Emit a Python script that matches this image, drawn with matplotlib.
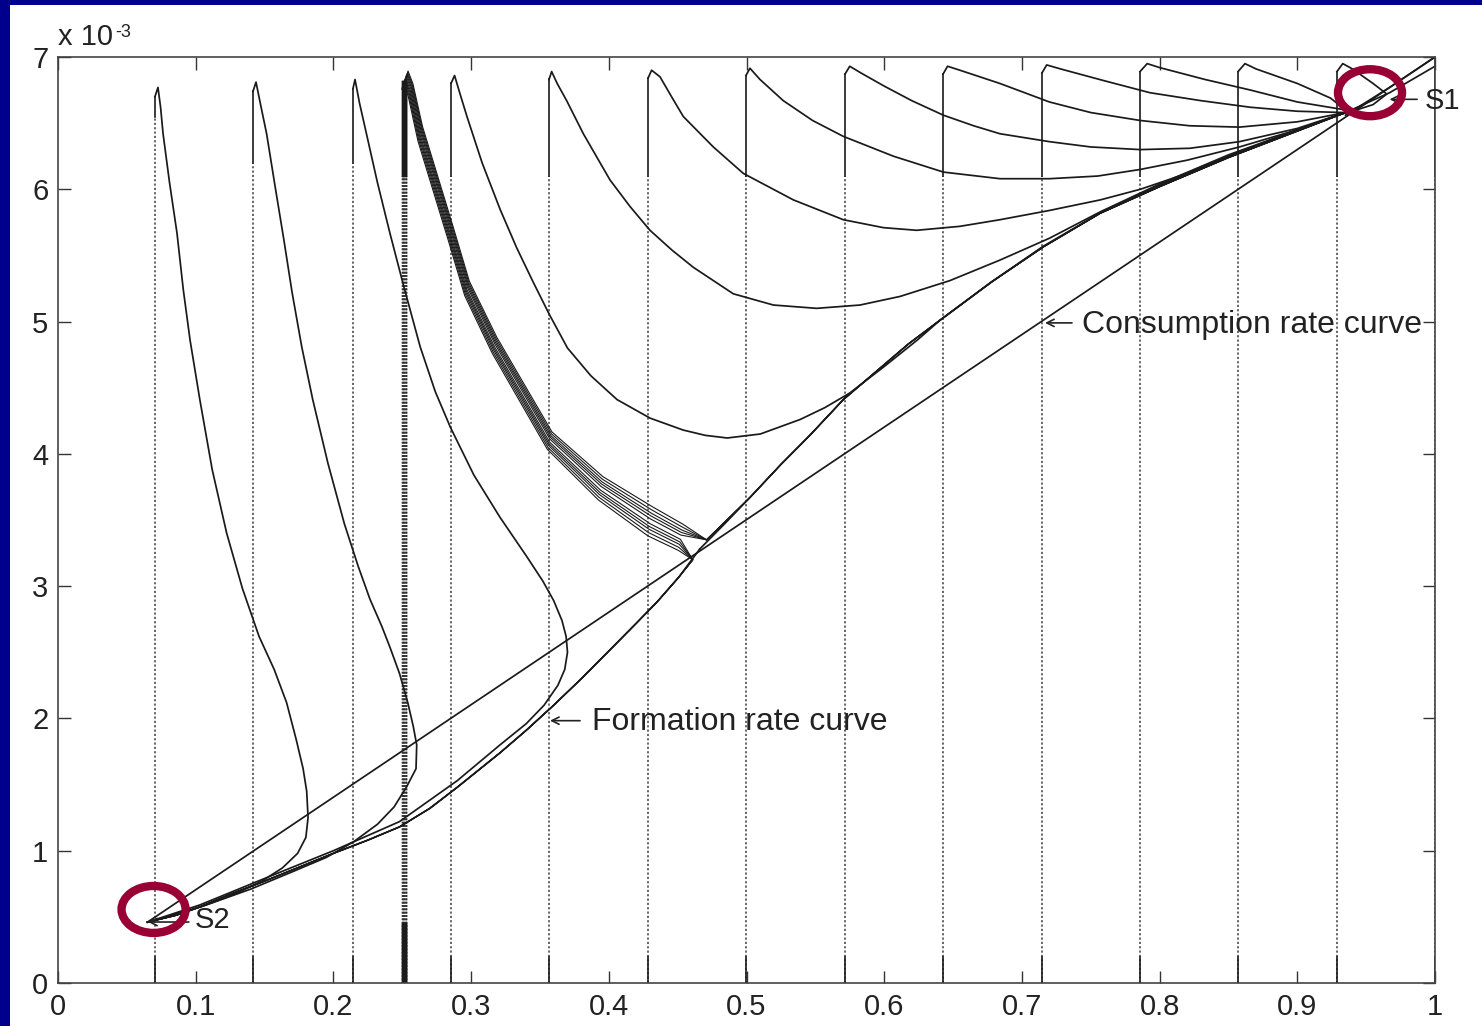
import matplotlib.pyplot as plt
from matplotlib.patches import Ellipse, Rectangle

plt.rcParams['font.family'] = ['Liberation Sans', 'DejaVu Sans']

# y values are in units of 1e-3

# where each run starts (bottom of the vertical) and where its vertical turns solid
x0_vals = [0.0704, 0.1416, 0.2142, 0.2854, 0.3566, 0.4285, 0.4996,
           0.5715, 0.6427, 0.7146, 0.7858, 0.857, 0.9288, 1.0]
solid_from = [6.55, 6.2, 6.2, 6.1, 6.1, 6.1, 6.1, 6.1, 6.1, 6.1, 6.1, 6.1, 6.1, 6.1]

# path of each run after the vertical rise
runs = [
    [(0.0704, 6.70), (0.0726, 6.77), (0.0745, 6.62), (0.0763, 6.42), (0.081, 6.05),
     (0.0864, 5.67), (0.091, 5.24), (0.0959, 4.86), (0.103, 4.41), (0.112, 3.88),
     (0.1225, 3.40), (0.134, 2.98), (0.146, 2.62), (0.157, 2.37), (0.166, 2.12),
     (0.173, 1.84), (0.178, 1.62), (0.1806, 1.45), (0.1816, 1.25), (0.180, 1.10),
     (0.174, 0.98), (0.163, 0.87), (0.148, 0.77), (0.130, 0.68), (0.110, 0.60),
     (0.088, 0.52), (0.065, 0.46)],
    [(0.1416, 6.74), (0.1438, 6.81), (0.1475, 6.62), (0.1515, 6.42), (0.158, 6.00),
     (0.164, 5.62), (0.170, 5.22), (0.177, 4.81), (0.185, 4.41), (0.196, 3.93),
     (0.208, 3.47), (0.218, 3.15), (0.2266, 2.90), (0.235, 2.70), (0.241, 2.54),
     (0.248, 2.34), (0.254, 2.12), (0.258, 1.94), (0.2605, 1.80), (0.260, 1.62),
     (0.253, 1.48), (0.244, 1.33), (0.232, 1.20), (0.215, 1.07), (0.195, 0.95),
     (0.170, 0.84), (0.140, 0.71), (0.105, 0.58), (0.065, 0.46)],
    [(0.2142, 6.76), (0.2157, 6.83), (0.219, 6.65), (0.224, 6.42), (0.232, 6.05),
     (0.241, 5.67), (0.251, 5.27), (0.263, 4.81), (0.274, 4.47), (0.285, 4.20),
     (0.302, 3.84), (0.321, 3.52), (0.340, 3.23), (0.352, 3.04), (0.360, 2.89),
     (0.366, 2.74), (0.369, 2.62), (0.370, 2.50), (0.368, 2.37), (0.363, 2.25),
     (0.353, 2.10), (0.340, 1.96), (0.321, 1.80), (0.290, 1.53), (0.248, 1.22),
     (0.200, 1.00), (0.150, 0.79), (0.103, 0.59), (0.065, 0.46)],
    [(0.2854, 6.80), (0.288, 6.86), (0.292, 6.72), (0.297, 6.55), (0.308, 6.20),
     (0.321, 5.85), (0.333, 5.56), (0.345, 5.30), (0.357, 5.05), (0.370, 4.80),
     (0.387, 4.59), (0.406, 4.41), (0.430, 4.27), (0.454, 4.18), (0.470, 4.14),
     (0.486, 4.12), (0.510, 4.15), (0.539, 4.26), (0.557, 4.35), (0.575, 4.46),
     (0.600, 4.66), (0.624, 4.86), (0.6405, 5.01), (0.678, 5.30), (0.7156, 5.57),
     (0.7567, 5.82), (0.800, 6.03), (0.850, 6.25), (0.895, 6.43), (0.935, 6.58)],
    [(0.3566, 6.83), (0.3585, 6.89), (0.3625, 6.80), (0.3694, 6.67), (0.3815, 6.42),
     (0.4009, 6.07), (0.4154, 5.87), (0.4299, 5.69), (0.4459, 5.54), (0.4614, 5.41),
     (0.4904, 5.21), (0.5195, 5.125), (0.551, 5.10), (0.5824, 5.125), (0.6115, 5.19),
     (0.6478, 5.31), (0.6841, 5.465), (0.720, 5.63), (0.757, 5.83), (0.800, 6.04),
     (0.850, 6.26), (0.895, 6.43), (0.935, 6.58)],
    [(0.4285, 6.84), (0.4311, 6.90), (0.4372, 6.85), (0.445, 6.71), (0.4541, 6.55),
     (0.4759, 6.32), (0.4977, 6.12), (0.534, 5.92), (0.5703, 5.77), (0.5994, 5.71),
     (0.6236, 5.69), (0.655, 5.72), (0.6841, 5.77), (0.720, 5.84), (0.757, 5.92),
     (0.786, 6.00), (0.820, 6.12), (0.858, 6.28), (0.895, 6.43), (0.935, 6.58)],
    [(0.4996, 6.86), (0.5025, 6.915), (0.5098, 6.83), (0.5267, 6.67), (0.548, 6.52),
     (0.5703, 6.40), (0.6067, 6.25), (0.643, 6.13), (0.6841, 6.08), (0.720, 6.08),
     (0.755, 6.10), (0.786, 6.15), (0.820, 6.22), (0.858, 6.32), (0.900, 6.45),
     (0.935, 6.58)],
    [(0.5715, 6.87), (0.575, 6.93), (0.583, 6.88), (0.600, 6.78), (0.620, 6.67),
     (0.643, 6.56), (0.665, 6.48), (0.684, 6.42), (0.720, 6.36), (0.750, 6.32),
     (0.786, 6.30), (0.822, 6.31), (0.858, 6.36), (0.900, 6.46), (0.935, 6.58)],
    [(0.6427, 6.87), (0.646, 6.93), (0.655, 6.90), (0.684, 6.80), (0.720, 6.66),
     (0.750, 6.58), (0.786, 6.52), (0.822, 6.48), (0.858, 6.47), (0.900, 6.51),
     (0.935, 6.58)],
    [(0.7146, 6.88), (0.718, 6.94), (0.728, 6.91), (0.760, 6.82), (0.793, 6.73),
     (0.830, 6.67), (0.866, 6.62), (0.900, 6.59), (0.935, 6.58)],
    [(0.7858, 6.89), (0.791, 6.95), (0.800, 6.92), (0.833, 6.83), (0.866, 6.75),
     (0.900, 6.66), (0.935, 6.60)],
    [(0.857, 6.89), (0.862, 6.95), (0.870, 6.91), (0.900, 6.80), (0.924, 6.69),
     (0.935, 6.60)],
    [(0.9288, 6.89), (0.933, 6.95), (0.940, 6.91), (0.955, 6.80), (0.965, 6.72),
     (0.955, 6.64), (0.940, 6.59)],
    [(1.0, 7.0), (0.967, 6.77), (0.935, 6.56)],
]

# bundle of runs started right at the separatrix (x0 close to 0.25)
bunch_dx = [-0.0016, -0.0012, -0.0008, -0.0004, 0.0, 0.0003, 0.0007, 0.0011, 0.0014, 0.0017]
bunch_dy = [-0.11, -0.085, -0.06, -0.04, -0.018, 0.018, 0.04, 0.06, 0.085, 0.11]
bunch_path = [(0.2513, 6.80), (0.2525, 6.85), (0.256, 6.75), (0.263, 6.42), (0.285, 5.67),
              (0.297, 5.25), (0.317, 4.82), (0.357, 4.10), (0.394, 3.74), (0.430, 3.49),
              (0.452, 3.37)]
fan_weight = [0.4, 0.4, 0.45, 0.5, 0.5, 0.5, 0.55, 0.6, 0.8, 1.0, 0.9]
saddle_up = (0.471, 3.35)
saddle_down = (0.461, 3.20)

# formation rate curve (lower branch S2 -> saddle, upper branch saddle -> S1)
form_lo_x = [0.065, 0.085, 0.103, 0.125, 0.150, 0.175, 0.200, 0.225, 0.248, 0.270,
             0.290, 0.321, 0.340, 0.360, 0.380, 0.401, 0.420, 0.435, 0.451, 0.466]
form_lo_y = [0.46, 0.51, 0.575, 0.67, 0.77, 0.875, 0.98, 1.08, 1.18, 1.32,
             1.48, 1.74, 1.91, 2.10, 2.30, 2.52, 2.72, 2.88, 3.07, 3.28]
form_hi_x = [0.466, 0.484, 0.5025, 0.525, 0.546, 0.5703, 0.595, 0.6175, 0.6405, 0.678,
             0.7156, 0.7567, 0.800, 0.850, 0.895, 0.935, 0.967, 1.0]
form_hi_y = [3.28, 3.47, 3.67, 3.92, 4.14, 4.41, 4.63, 4.83, 5.01, 5.30,
             5.565, 5.818, 6.02, 6.24, 6.42, 6.58, 6.73, 6.93]

# consumption rate curve (straight)
cons_x = [0.065, 1.0]
cons_y = [0.46, 7.0]

# label arrows: (text, arrow tip, arrow tail, text baseline position, font size)
labels = [
    ('Consumption rate curve', (0.7168, 4.99), (0.7364, 4.99), (0.7437, 4.913), 23),
    ('Formation rate curve', (0.3573, 1.983), (0.3791, 1.983), (0.3876, 1.912), 23),
    ('S1', (0.967, 6.68), (0.987, 6.68), (0.9928, 6.61), 21),
    ('S2', (0.0654, 0.461), (0.095, 0.461), (0.0995, 0.415), 21),
]

s1_ring = (0.9528, 6.73)
s2_ring = (0.0694, 0.556)

x_ticks = [0, 0.1, 0.2, 0.3, 0.4, 0.5, 0.6, 0.7, 0.8, 0.9, 1.0]
x_tick_labels = ['0', '0.1', '0.2', '0.3', '0.4', '0.5', '0.6', '0.7', '0.8', '0.9', '1']
y_ticks = [0, 1, 2, 3, 4, 5, 6, 7]

line_col = '#1a1a1a'
dot_col = '#5a5a5a'
dots = (0, (1.2, 1.2))

fig = plt.figure(figsize=(14.82, 10.26), dpi=100)
fig.patch.set_facecolor('#00008c')
fig.patches.append(Rectangle((10 / 1482, 0), 1, 1 - 5 / 1026, transform=fig.transFigure,
                             facecolor='white', edgecolor='none', zorder=-1))
ax = fig.add_axes([58 / 1482, 43 / 1026, 1377 / 1482, 926 / 1026])

# vertical rises
for x0, sf, path in zip(x0_vals, solid_from, runs):
    top = path[0][1]
    ax.plot([x0, x0], [0, sf], color=dot_col, lw=1.3, ls=dots)
    ax.plot([x0, x0], [0, 0.2], color=line_col, lw=1.2)
    ax.plot([x0, x0], [sf, top], color=line_col, lw=1.2)

for dx in bunch_dx:
    x0 = bunch_path[0][0] + dx
    ax.plot([x0, x0], [0, 6.1], color='#333333', lw=1.0, ls=dots)
    ax.plot([x0, x0], [6.1, 6.82], color=line_col, lw=1.0)
    ax.plot([x0, x0], [0, 0.45], color=line_col, lw=1.0)

# runs
for path in runs:
    ax.plot([p[0] for p in path], [p[1] for p in path], color=line_col, lw=1.25)

# separatrix bundle
for dx, dy in zip(bunch_dx, bunch_dy):
    xs = [p[0] + dx for p in bunch_path]
    ys = [p[1] + dy * w for p, w in zip(bunch_path, fan_weight)]
    if dy > 0:
        xs += [saddle_up[0]] + form_hi_x[2:16]
        ys += [saddle_up[1]] + form_hi_y[2:16]
    else:
        xs += [saddle_down[0]] + form_lo_x[::-1][1:]
        ys += [saddle_down[1]] + form_lo_y[::-1][1:]
    ax.plot(xs, ys, color=line_col, lw=0.8)

# rate curves
ax.plot(form_lo_x, form_lo_y, color=line_col, lw=1.25)
ax.plot(form_hi_x, form_hi_y, color=line_col, lw=1.25)
ax.plot(cons_x, cons_y, color=line_col, lw=1.25)

# labels with arrows
for name, tip, tail, pos, size in labels:
    ax.annotate('', xy=tip, xytext=tail, annotation_clip=False,
                arrowprops=dict(arrowstyle='->', color='#222222', lw=1.2,
                                shrinkA=0, shrinkB=0, mutation_scale=13))
    ax.text(pos[0], pos[1], name, fontsize=size, color='#222222', ha='left',
            va='baseline', clip_on=False)

for c in (s1_ring, s2_ring):
    ax.add_patch(Ellipse(c, width=0.0465, height=0.355, fill=False,
                         edgecolor='#990033', lw=6, clip_on=False, zorder=5))

# MATLAB style exponent label
ax.text(0.0, 1.013, 'x 10', transform=ax.transAxes, fontsize=21,
        ha='left', va='baseline', color='#222222')
ax.text(0.0414, 1.0216, '-3', transform=ax.transAxes, fontsize=13,
        ha='left', va='baseline', color='#222222')

ax.set_xlim(0, 1)
ax.set_ylim(0, 7)
ax.set_xticks(x_ticks)
ax.set_xticklabels(x_tick_labels)
ax.set_yticks(y_ticks)
ax.tick_params(direction='in', length=9, width=1.0, top=True, right=True,
               labelsize=21, pad=7, color='#333333', labelcolor='#222222')
for s in ax.spines.values():
    s.set_color('#444444')
    s.set_linewidth(1.2)

fig.savefig('out.png', dpi=100, facecolor=fig.get_facecolor())
